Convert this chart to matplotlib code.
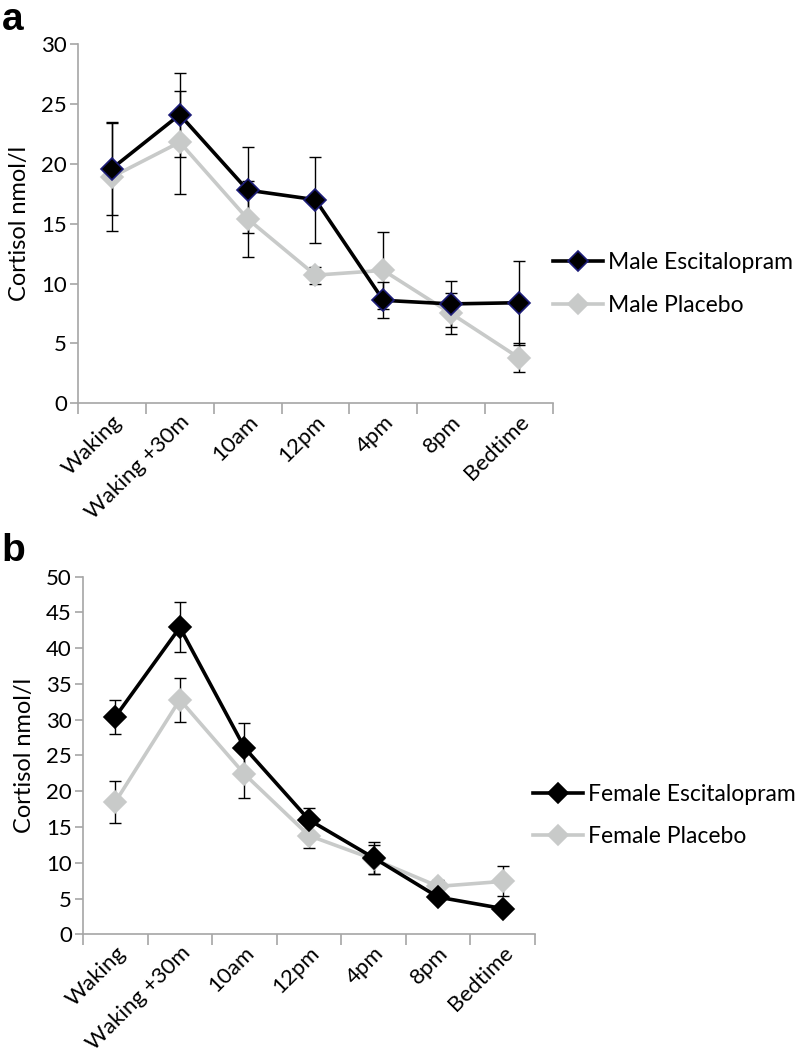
import numpy as np
import matplotlib
matplotlib.use("Agg")
import matplotlib.pyplot as plt

plt.rcParams['font.family'] = ['Lato', 'DejaVu Sans']

times = ['Waking', 'Waking +30m', '10am', '12pm', '4pm', '8pm', 'Bedtime']

# panel a - males
male_esc = [19.6, 24.1, 17.8, 17.0, 8.6, 8.3, 8.4]
male_esc_err = [3.9, 3.5, 3.6, 3.6, 1.5, 1.9, 3.5]
male_pla = [18.9, 21.8, 15.4, 10.7, 11.1, 7.5, 3.8]
male_pla_err = [4.5, 4.3, 3.2, 0.7, 3.2, 1.7, 1.2]

# panel b - females
female_esc = [30.4, 42.9, 26.1, 16.0, 10.7, 5.2, 3.6]
female_esc_err = [2.4, 3.5, 3.4, 1.7, 2.2, 0.5, 0.5]
female_pla = [18.5, 32.8, 22.4, 13.8, 10.5, 6.7, 7.4]
female_pla_err = [2.9, 3.1, 3.3, 1.7, 2.0, 0.9, 2.1]

grey = '#c8cac9'
spine = '#a6a6a6'

fig = plt.figure(figsize=(7.99, 10.55), dpi=100)


def panel(rect, esc, esc_err, pla, pla_err, ymax, labels, esc_edge, leg_xy):
    ax = fig.add_axes(rect)
    x = np.arange(len(times)) + 0.5
    # error bars first
    ax.errorbar(x, pla, yerr=pla_err, fmt='none', ecolor='black', elinewidth=1,
                capsize=4, capthick=1, zorder=2)
    ax.errorbar(x, esc, yerr=esc_err, fmt='none', ecolor='black', elinewidth=1,
                capsize=4, capthick=1, zorder=2)
    l1, = ax.plot(x, esc, '-D', color='black', lw=2.6, ms=11, mfc='black',
                  mec=esc_edge, mew=1.2, label=labels[0], zorder=4)
    l2, = ax.plot(x, pla, '-D', color=grey, lw=2.6, ms=11, mfc=grey,
                  mec=grey, mew=1.2, label=labels[1], zorder=3)
    ax.set_xlim(0, len(times))
    ax.set_ylim(0, ymax)
    ax.set_yticks(np.arange(0, ymax + 1, 5))
    ax.set_xticks(np.arange(len(times) + 1))
    ax.set_xticklabels([])
    ax.set_xticks(x, minor=True)
    ax.set_xticklabels(times, minor=True, rotation=45, ha='right',
                       rotation_mode='anchor', fontsize=16)
    ax.tick_params(axis='x', which='minor', length=0, pad=6)
    ax.tick_params(axis='x', which='major', length=8, width=1.2, color=spine)
    ax.tick_params(axis='y', length=6, width=1.2, color=spine, labelsize=16, pad=2)
    for s in ['top', 'right']:
        ax.spines[s].set_visible(False)
    for s in ['left', 'bottom']:
        ax.spines[s].set_color(spine)
        ax.spines[s].set_linewidth(1.2)
    ax.set_ylabel('Cortisol nmol/l', fontsize=17, labelpad=8)
    fig.legend(handles=[l1, l2], loc='center left', bbox_to_anchor=leg_xy,
               frameon=False, fontsize=16.5, handlelength=2.2, handletextpad=0.2,
               labelspacing=0.95, borderaxespad=0, borderpad=0, markerscale=0.9)
    return ax


panel([0.0976, 0.6177, 0.5944, 0.3406], male_esc, male_esc_err, male_pla, male_pla_err,
      30, ['Male Escitalopram', 'Male Placebo'], '#1c1c78', (0.692, 0.7308))
panel([0.1039, 0.1144, 0.5657, 0.3390], female_esc, female_esc_err, female_pla, female_pla_err,
      50, ['Female Escitalopram', 'Female Placebo'], 'black', (0.667, 0.227))

fig.text(0.002, 0.998, 'a', fontsize=28, fontweight='bold', family='Liberation Sans',
         va='top', ha='left')
fig.text(0.002, 0.495, 'b', fontsize=28, fontweight='bold', family='Liberation Sans',
         va='top', ha='left')

fig.savefig('out.png', dpi=100)
